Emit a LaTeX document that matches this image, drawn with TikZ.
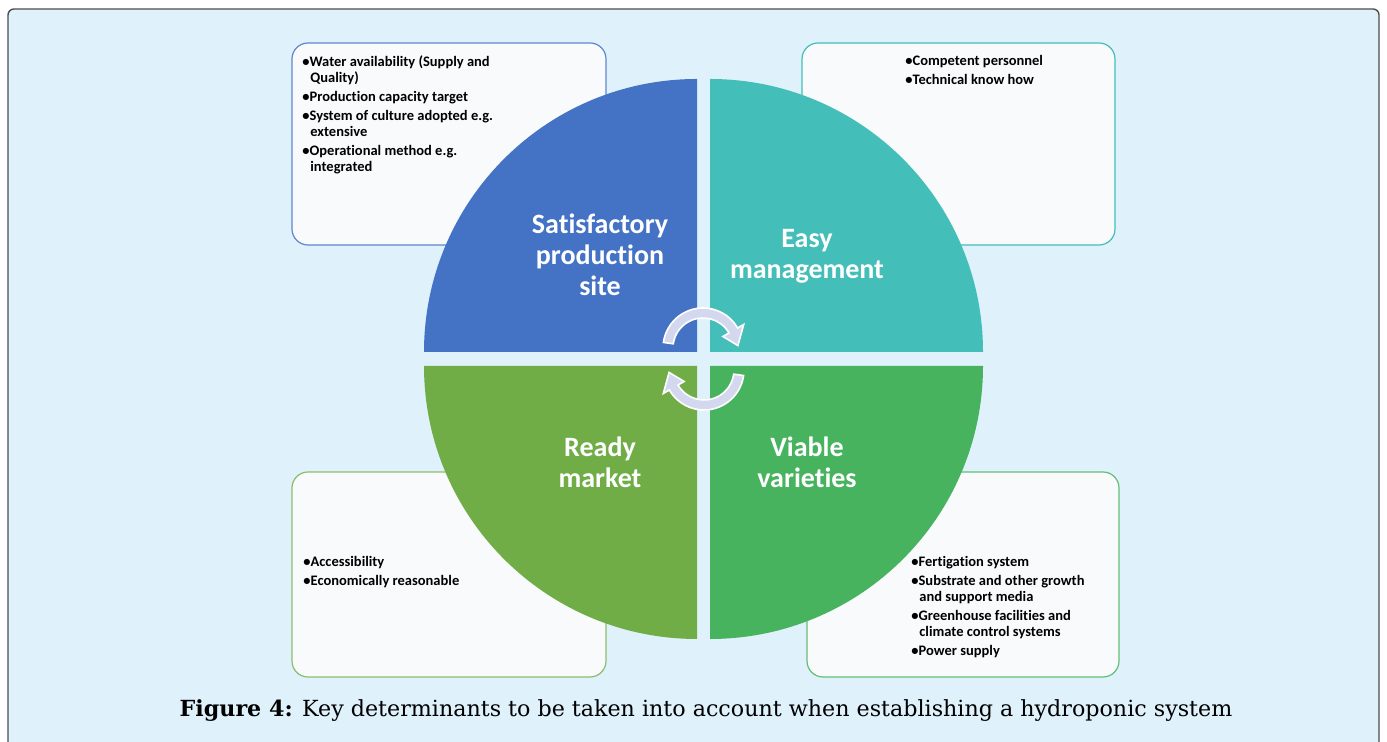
\documentclass[tikz,border=0pt]{standalone}
\usepackage{fontspec}
\setmainfont{Carlito}[Ligatures=NoCommon]
\newfontfamily\capfont{DejaVu Serif}
\usepackage{tikz}
\newcommand{\quadpath}[2]% corner, start angle
{(#1) -- ++(#2:273) arc (#2:#2+90:273) -- cycle
}
\definecolor{bgblue}{HTML}{DFF1FB}
\definecolor{boxfill}{HTML}{F8FAFC}
\definecolor{qblue}{HTML}{4472C4}
\definecolor{qteal}{HTML}{44BEB8}
\definecolor{qolive}{HTML}{70AD47}
\definecolor{qgreen}{HTML}{47B35F}
\definecolor{arrowfill}{HTML}{D4D8EE}
\tikzset{
	lab/.style={text=white, font=\bfseries\fontsize{14}{15.5}\selectfont, align=center},
	bul/.style={font=\bfseries\fontsize{7.25}{8}\selectfont, align=left, inner sep=0pt, anchor=north west},
	infobox/.style={fill=boxfill, rounded corners=8pt, line width=0.6pt},
	turn/.style={fill=arrowfill, draw=white, line width=0.8pt}
}

\begin{document}
\begin{tikzpicture}[x=0.5pt, y=0.5pt]
	\useasboundingbox (0,0) rectangle (1387,742);
	\clip (0,0) rectangle (1387,742);
	\draw[fill=bgblue, draw=black!70, line width=0.7pt, rounded corners=3pt] (8,733) rectangle (1379,-20);
	% side boxes
	\draw[infobox, draw=qblue!85] (292,497) rectangle (606,699);
	\draw[infobox, draw=qteal] (802,497) rectangle (1115,699);
	\draw[infobox, draw=qolive!80] (292,65) rectangle (606,270);
	\draw[infobox, draw=qgreen!85] (807,65) rectangle (1119,270);
	% quarters
	\fill[qblue] \quadpath{697,390}{90};
	\fill[qteal] \quadpath{710,390}{0};
	\fill[qolive] \quadpath{697,376}{180};
	\fill[qgreen] \quadpath{710,376}{270};
	\node[lab] (site) at (600,487) {Satisfactory\\production\\site};
	\node[lab] (mgmt) at (807,486) {Easy\\management};
	\node[lab] (market) at (600,280) {Ready\\market};
	\node[lab] (variety) at (807,280) {Viable\\varieties};
	% turning arrows
	\begin{scope}[shift={(703,394)}]
		\draw[turn] (172:40) arc (172:30:40) -- (30:47) -- (4:35) -- (30:23) -- (30:30) arc (30:172:30) -- cycle;
	\end{scope}
	\begin{scope}[shift={(704,372)}, rotate=180]
		\draw[turn] (172:40) arc (172:30:40) -- (30:47) -- (4:35) -- (30:23) -- (30:30) arc (30:172:30) -- cycle;
	\end{scope}
	% lists
	\node[bul] (sitelist) at (302,687) {\textbullet Water availability (Supply and\\\hspace*{4pt}Quality)\\[1.5pt]
		\textbullet Production capacity target\\[1.5pt]
		\textbullet System of culture adopted e.g.\\\hspace*{4pt}extensive\\[1.5pt]
		\textbullet Operational method e.g.\\\hspace*{4pt}integrated};
	\node[bul] (mgmtlist) at (905,687) {\textbullet Competent personnel\\[1.5pt]
		\textbullet Technical know how};
	\node[bul] (marketlist) at (303,186) {\textbullet Accessibility\\[1.5pt]
		\textbullet Economically reasonable};
	\node[bul] (varietylist) at (911,186) {\textbullet Fertigation system\\[1.5pt]
		\textbullet Substrate and other growth\\\hspace*{4pt}and support media\\[1.5pt]
		\textbullet Greenhouse facilities and\\\hspace*{4pt}climate control systems\\[1.5pt]
		\textbullet Power supply};
	% caption
	\node[font=\capfont\fontsize{11.1}{13}\selectfont, anchor=base] (cap) at (706,25) {\textbf{Figure 4:} Key determinants to be taken into account when establishing a hydroponic system};
\end{tikzpicture}
\end{document}
